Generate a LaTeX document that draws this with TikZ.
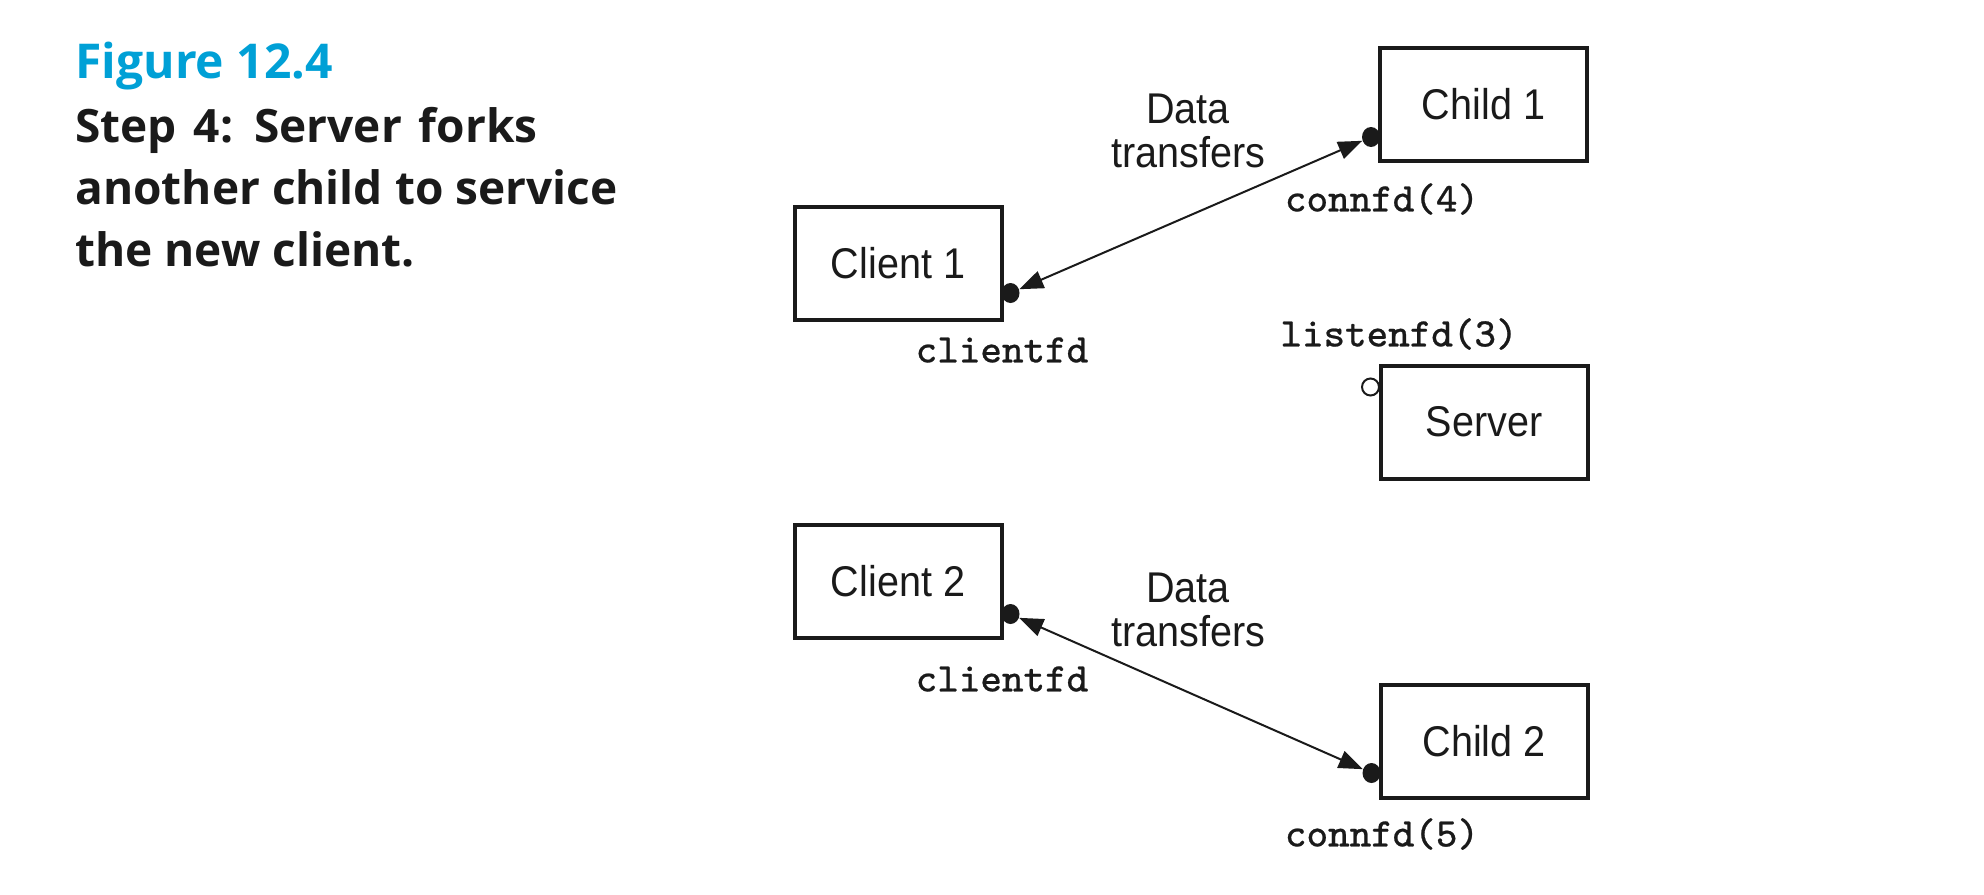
\documentclass[tikz,border=0pt]{standalone}
\usepackage{fontspec}
\setmainfont{Liberation Sans}
\newfontfamily\boxfont{Liberation Sans}[FakeStretch=0.92]
\newfontfamily\capfont{Open Sans}
\newfontfamily\labfont{lmmono8-regular.otf}[FakeBold=0.6]
\usetikzlibrary{arrows.meta,calc,shapes.geometric}
\definecolor{figblue}{RGB}{0,160,214}
\definecolor{inkblack}{RGB}{26,26,26}
\begin{document}
\begin{tikzpicture}[x=0.5pt,y=-0.5pt,
  proc/.style={draw=inkblack, line width=2pt, minimum width=103.5pt, minimum height=56.5pt, inner sep=0pt, text=inkblack, font=\boxfont\fontsize{21.5}{24}\selectfont},
  fd/.style={ellipse, fill=inkblack, inner sep=0pt, minimum width=9pt, minimum height=10pt},
  lfd/.style={circle, draw=inkblack, fill=white, line width=1pt, inner sep=0pt, minimum size=8.5pt},
  link/.style={{Triangle[length=12pt,width=9pt]}-{Triangle[length=12pt,width=9pt]}, line width=1pt, draw=inkblack},
  fdlabel/.style={font=\labfont\fontsize{20.3}{24}\selectfont, inner sep=0pt, text=inkblack},
  note/.style={align=center, font=\boxfont\fontsize{21.5}{22}\selectfont, inner sep=0pt, text=inkblack},
  captext/.style={anchor=base west, inner sep=0pt, font=\capfont\bfseries\fontsize{23}{31}\selectfont}]
\useasboundingbox (0,0) rectangle (1984,894);
% caption
\node[captext, text=figblue, font=\capfont\bfseries\fontsize{24}{31}\selectfont] (fig) at (75,78) {Figure 12.4};
\node[captext, text=inkblack] (cap1) at (75,142) {Step\hspace{2.5pt} 4:\hspace{2.5pt} Server\hspace{2.5pt} forks};
\node[captext, text=inkblack] (cap2) at (75,204) {another child to service};
\node[captext, text=inkblack] (cap3) at (75,266) {the new client.};
% boxes
\node[proc] (child1) at (1483.5,104) {Child 1};
\node[proc] (client1) at (898,263) {Client 1};
\node[proc] (server) at (1484,422) {Server};
\node[proc] (client2) at (898,581) {Client 2};
\node[proc] (child2) at (1484,741) {Child 2};
% descriptors
\node[fd] (ch1fd) at ($(child1.west)+(-7,33)$) {};
\node[fd] (cl1fd) at ($(client1.east)+(7,30)$) {};
\node[lfd] (lsfd) at ($(server.west)+(-8,-35)$) {};
\node[fd] (cl2fd) at ($(client2.east)+(7,33)$) {};
\node[fd] (ch2fd) at ($(child2.west)+(-7,32)$) {};
% links
\draw[link] (cl1fd) -- (ch1fd);
\draw[link] (cl2fd) -- (ch2fd);
% labels
\node[note] (dt1) at (1188,131) {Data\\transfers};
\node[note] (dt2) at (1188,610) {Data\\transfers};
\node[fdlabel] (ch1lab) at (1382,199) {connfd(4)};
\node[fdlabel] (cl1lab) at (1002,350) {clientfd};
\node[fdlabel] (lslab) at (1399,334) {listenfd(3)};
\node[fdlabel] (cl2lab) at (1002,679) {clientfd};
\node[fdlabel] (ch2lab) at (1382,834) {connfd(5)};
\end{tikzpicture}
\end{document}
